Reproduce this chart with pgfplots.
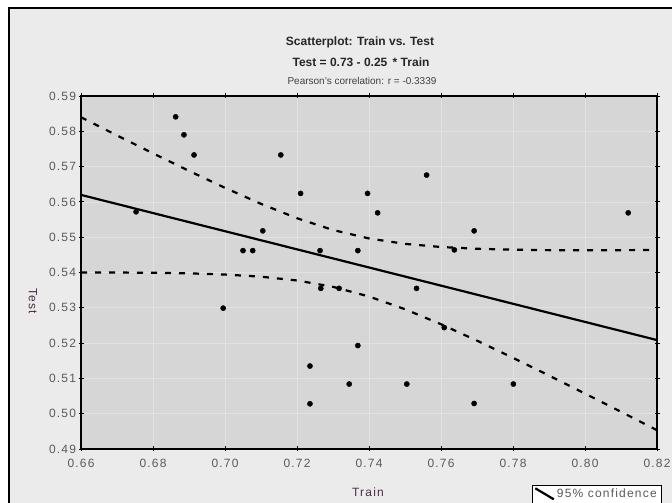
\documentclass[border=0pt]{standalone}
\usepackage{fontspec}
\setmainfont{Liberation Sans}
\newfontfamily\tickfont[LetterSpace=10]{Liberation Sans}
\usepackage{pgfplots}
\pgfplotsset{compat=1.18}
\definecolor{outerbg}{HTML}{EBEBEB}
\definecolor{plotbg}{HTML}{D6D6D6}
\definecolor{gridc}{HTML}{E2E2E2}
\definecolor{ticktext}{HTML}{5A5A5A}
\definecolor{labtext}{HTML}{4A2E48}
\pgfplotstableread{
x y
0.6753 0.5572
0.6863 0.5841
0.6886 0.5790
0.6914 0.5733
0.6995 0.5299
0.7050 0.5462
0.7077 0.5462
0.7105 0.5518
0.7155 0.5733
0.7210 0.5624
0.7236 0.5135
0.7236 0.5028
0.7264 0.5462
0.7266 0.5355
0.7317 0.5355
0.7345 0.5084
0.7369 0.5462
0.7369 0.5193
0.7396 0.5624
0.7424 0.5569
0.7505 0.5084
0.7532 0.5355
0.7560 0.5676
0.7609 0.5244
0.7637 0.5464
0.7692 0.5518
0.7692 0.5029
0.7801 0.5084
0.8120 0.5569
}\pts
\pgfplotstableread{
x fit upper lower
0.66 0.56198 0.58398 0.53998
0.67 0.55941 0.57883 0.53999
0.68 0.55684 0.57376 0.53992
0.69 0.55427 0.56878 0.53976
0.70 0.55170 0.56398 0.53942
0.71 0.54913 0.55945 0.53881
0.72 0.54656 0.55538 0.53774
0.73 0.54399 0.55204 0.53594
0.74 0.54142 0.54964 0.53320
0.75 0.53885 0.54811 0.52959
0.76 0.53628 0.54722 0.52534
0.77 0.53371 0.54672 0.52070
0.78 0.53114 0.54646 0.51582
0.79 0.52857 0.54633 0.51081
0.80 0.52600 0.54630 0.50570
0.81 0.52343 0.54632 0.50054
0.82 0.52086 0.54639 0.49533
}\band
\begin{document}
\begin{tikzpicture}[x=1pt,y=1pt]
\path[use as bounding box, clip] (0,0) rectangle (672,503);
\fill[white] (0,0) rectangle (672,503);
\fill[outerbg] (9,-5) rectangle (680,495);
\draw[black, line width=1.2pt] (9,-5) -- (9,495) -- (680,495);
\node[font=\bfseries\fontsize{12}{14}\selectfont, text=black!85] at (360,461) {Scatterplot: Train vs. Test};
\node[font=\bfseries\fontsize{12}{14}\selectfont, text=black!85] at (361,441) {Test = 0.73 - 0.25 \,* Train};
\node[font=\fontsize{10}{12}\selectfont, text=black!75] at (362,422) {Pearson's correlation: r = -0.3339};
\begin{axis}[at={(81pt,54pt)}, anchor=south west, scale only axis,
  width=576pt, height=353pt,
  xmin=0.66, xmax=0.82, ymin=0.49, ymax=0.59,
  xtick={0.66,0.68,0.70,0.72,0.74,0.76,0.78,0.80,0.82},
  ytick={0.49,0.50,0.51,0.52,0.53,0.54,0.55,0.56,0.57,0.58,0.59},
  axis background/.style={fill=plotbg},
  grid=major, major grid style={gridc, line width=0.7pt},
  axis line style={black, line width=1.1pt},
  tick style={black, line width=0.8pt},
  tick align=center, major tick length=5pt,
  /pgf/number format/assume math mode=true,
  /pgf/number format/fixed, /pgf/number format/fixed zerofill,
  /pgf/number format/precision=2,
  tick label style={font=\tickfont\fontsize{12}{14}\selectfont, text=ticktext},
  xticklabel style={yshift=-4pt},
  yticklabel style={xshift=1pt},
  legend style={at={(0.783,-0.102)}, anchor=north west, draw=black, fill=white,
    font=\tickfont\fontsize{12}{14}\selectfont, text=ticktext, inner sep=2pt},
  legend cell align=left,
]
\addplot[only marks, mark=*, mark size=2.6pt, black, forget plot] table[x=x,y=y] {\pts};
\addplot[black, line width=2.2pt, forget plot] table[x=x,y=fit] {\band};
\addplot[black, line width=2.2pt, dash pattern=on 6pt off 8pt, forget plot] table[x=x,y=upper] {\band};
\addplot[black, line width=2.2pt, dash pattern=on 6pt off 8pt, forget plot] table[x=x,y=lower] {\band};
\addlegendimage{legend image code/.code={\draw[black, line width=2.2pt] (0pt,6pt) -- (0.65cm,-5pt);}}
\addlegendentry{95\% confidence}
\end{axis}
\node[font=\tickfont\fontsize{12}{14}\selectfont, text=labtext] at (368,11) {Train};
\node[font=\tickfont\fontsize{12}{14}\selectfont, text=labtext, rotate=-90] at (33,202) {Test};
\end{tikzpicture}
\end{document}
